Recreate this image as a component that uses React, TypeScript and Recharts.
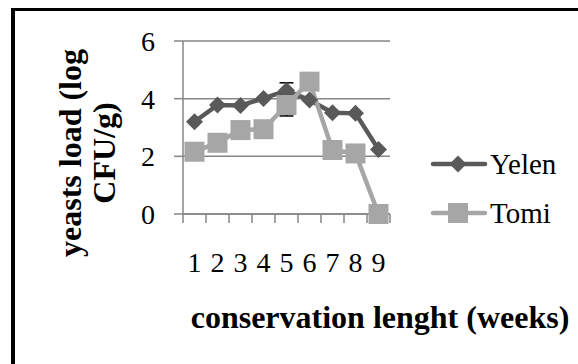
import { LineChart, Line, XAxis, YAxis, CartesianGrid, Legend, ErrorBar, Label } from 'recharts';

// values
const weeks = [1, 2, 3, 4, 5, 6, 7, 8, 9];
const yelen = [3.2, 3.78, 3.76, 4.01, 4.28, 3.95, 3.51, 3.49, 2.24];
const tomi = [2.16, 2.47, 2.91, 2.94, 3.78, 4.59, 2.22, 2.1, 0];
const yelenErr = [null, null, null, null, 0.27, null, null, null, null];
const tomiErr = [null, null, null, null, 0.38, null, null, null, null];
const yTicks = [0, 2, 4, 6];
const xTicks = [0.5, 1, 1.5, 2, 2.5, 3, 3.5, 4, 4.5, 5, 5.5, 6, 6.5, 7, 7.5, 8, 8.5, 9, 9.5];

const data = weeks.map((w, i) => ({
  week: w,
  Yelen: yelen[i],
  Tomi: tomi[i],
  yelenErr: yelenErr[i],
  tomiErr: tomiErr[i],
}));

const FONT = '"Liberation Serif", "Times New Roman", serif';
const DARK = '#595959';
const LIGHT = '#a6a6a6';
const AXIS = '#868686';
const LEGEND_W = 148;

const Diamond = (props: any) => {
  const { cx, cy, fill } = props;
  if (cx == null || cy == null) return null;
  const r = 8.5;
  return <path d={`M${cx},${cy - r}L${cx + r},${cy}L${cx},${cy + r}L${cx - r},${cy}Z`} fill={fill} />;
};

const Square = (props: any) => {
  const { cx, cy, fill } = props;
  if (cx == null || cy == null) return null;
  const r = 10;
  return <rect x={cx - r} y={cy - r} width={r * 2} height={r * 2} fill={fill} />;
};

// tick marks between categories, labels on the whole weeks
const WeekTick = (props: any) => {
  const { x, y, payload } = props;
  const v = payload.value;
  if (Number.isInteger(v)) {
    return (
      <text x={x} y={y} dy={48.5} textAnchor="middle" fontFamily={FONT} fontSize={28} fill="#000">
        {v}
      </text>
    );
  }
  return <line x1={x} x2={x} y1={y - 9} y2={y} stroke={AXIS} strokeWidth={1.5} />;
};

const legendItems = [
  { name: 'Yelen', color: DARK, shape: 'diamond' },
  { name: 'Tomi', color: LIGHT, shape: 'square' },
];

const renderLegend = () => (
  <div style={{ fontFamily: FONT, fontSize: 29, color: '#000' }}>
    {legendItems.map((it, i) => (
      <div key={it.name} style={{ display: 'flex', alignItems: 'center', height: 24, marginBottom: i === 0 ? 25 : 0 }}>
        <svg width={58} height={24} style={{ marginRight: 2 }}>
          <line x1={3} x2={55} y1={12} y2={12} stroke={it.color} strokeWidth={4.5} strokeLinecap="round" />
          {it.shape === 'diamond' ? (
            <path d="M28,3.5L36.5,12L28,20.5L19.5,12Z" fill={it.color} />
          ) : (
            <rect x={18} y={2} width={20} height={20} fill={it.color} />
          )}
        </svg>
        <span style={{ lineHeight: '24px' }}>{it.name}</span>
      </div>
    ))}
  </div>
);

export default function App() {
  return (
    <div style={{ position: 'absolute', left: 0, top: 0, width: 578, height: 364, background: '#fff', overflow: 'hidden' }}>
      <div style={{ position: 'absolute', left: 11, top: 8, width: 567, height: 3, background: '#000' }} />
      <div style={{ position: 'absolute', left: 11, top: 8, width: 4, height: 356, background: '#000' }} />
      <LineChart width={578} height={364} data={data} margin={{ top: 41, right: 188 - LEGEND_W, left: 0, bottom: 0 }}>
        <CartesianGrid vertical={false} stroke={AXIS} strokeWidth={1.5} />
        <XAxis
          dataKey="week"
          type="number"
          domain={[0.5, 9.5]}
          ticks={xTicks}
          interval={0}
          height={150}
          tickLine={false}
          tickSize={9}
          tickMargin={0}
          axisLine={{ stroke: AXIS, strokeWidth: 1.5 }}
          tick={<WeekTick />}
        >
          <Label
            content={() => (
              <text x={380} y={317} textAnchor="middle" dominantBaseline="central" fontFamily={FONT} fontWeight="bold" fontSize={32} fill="#000">
                conservation lenght (weeks)
              </text>
            )}
          />
        </XAxis>
        <YAxis
          domain={[0, 6]}
          ticks={yTicks}
          width={183}
          tickSize={9}
          tickMargin={19}
          tickLine={{ stroke: AXIS, strokeWidth: 1.5 }}
          axisLine={{ stroke: AXIS, strokeWidth: 1.5 }}
          tick={{ fontFamily: FONT, fontSize: 28, fill: '#000' }}
        >
          <Label
            content={() => (
              <g fontFamily={FONT} fontWeight="bold" fontSize={32} fill="#000">
                <text x={70} y={153} transform="rotate(-90 70 153)" textAnchor="middle" dominantBaseline="central">
                  yeasts load (log
                </text>
                <text x={104} y={153} transform="rotate(-90 104 153)" textAnchor="middle" dominantBaseline="central">
                  CFU/g)
                </text>
              </g>
            )}
          />
        </YAxis>
        <Legend
          layout="vertical"
          align="right"
          verticalAlign="top"
          content={renderLegend}
          wrapperStyle={{ position: 'absolute', left: 430, top: 152, width: LEGEND_W }}
        />
        {/* error bars drawn first so the markers hide their whiskers */}
        <Line dataKey="Yelen" stroke="none" dot={false} activeDot={false} legendType="none" isAnimationActive={false}>
          <ErrorBar dataKey="yelenErr" direction="y" width={7} stroke="#000" strokeWidth={1.5} />
        </Line>
        <Line dataKey="Tomi" stroke="none" dot={false} activeDot={false} legendType="none" isAnimationActive={false}>
          <ErrorBar dataKey="tomiErr" direction="y" width={7} stroke="#000" strokeWidth={1.5} />
        </Line>
        <Line
          dataKey="Yelen"
          stroke={DARK}
          strokeWidth={4.5}
          fill={DARK}
          dot={<Diamond />}
          activeDot={false}
          isAnimationActive={false}
        />
        <Line
          dataKey="Tomi"
          stroke={LIGHT}
          strokeWidth={4.5}
          fill={LIGHT}
          dot={<Square />}
          activeDot={false}
          isAnimationActive={false}
        />
      </LineChart>
    </div>
  );
}
